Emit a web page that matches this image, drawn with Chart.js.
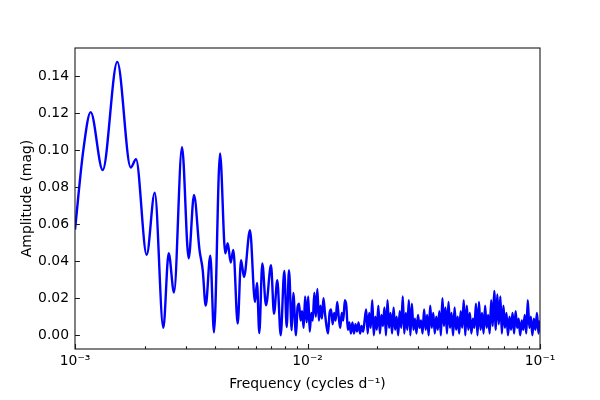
<!DOCTYPE html>
<html>
<head>
<meta charset="utf-8">
<script src="https://cdn.jsdelivr.net/npm/chart.js@4/dist/chart.umd.min.js"></script>
<style>
  html, body { margin: 0; padding: 0; background: #ffffff; }
  #chartCanvas { display: block; }
</style>
</head>
<body>
<canvas id="chartCanvas" width="600" height="400"></canvas>
<script>
// low-frequency part: frequency (cycles/d) and amplitude (mag), read peak by peak
var lowFreq = [
  0.001000, 0.001086, 0.001168, 0.001316, 0.001520, 0.001736, 0.001830, 0.002034,
  0.002203, 0.002398, 0.002529, 0.002666, 0.002886, 0.003083, 0.003250, 0.003432,
  0.003542, 0.003649, 0.003819, 0.003961, 0.004205, 0.004431, 0.004538, 0.004675,
  0.004796, 0.005010, 0.005177, 0.005333, 0.005658, 0.005946, 0.006065, 0.006204,
  0.006391, 0.006630, 0.006966, 0.007177, 0.007415, 0.007669, 0.007947, 0.008139,
  0.008326, 0.008552, 0.008688
];
var lowAmp = [
  0.0570, 0.1000, 0.1205, 0.0892, 0.1476, 0.0906, 0.0950, 0.0435,
  0.0770, 0.0040, 0.0443, 0.0231, 0.1015, 0.0416, 0.0757, 0.0460,
  0.0353, 0.0160, 0.0430, 0.0016, 0.0982, 0.0443, 0.0497, 0.0393,
  0.0461, 0.0063, 0.0405, 0.0315, 0.0568, 0.0180, 0.0283, 0.0012,
  0.0388, 0.0162, 0.0378, 0.0117, 0.0297, 0.0000, 0.0348, 0.0045,
  0.0351, 0.0027, 0.0229
];

// high-frequency noise band, evenly spaced in log frequency from highStart to highEnd
var highStart = 0.008924;
var highEnd = 0.1;
var highAmp = [
  0.000, 0.015, 0.017, 0.008, 0.013, 0.004, 0.021, 0.007, 0.021, 0.002,
  0.012, 0.008, 0.023, 0.010, 0.025, 0.008, 0.016, 0.009, 0.020, 0.012,
  0.005, 0.001, 0.012, 0.014, 0.006, 0.012, 0.008, 0.018, 0.010, 0.004,
  0.012, 0.008, 0.019, 0.016, 0.003, 0.007, 0.001, 0.007, 0.001, 0.006,
  0.002, 0.007, 0.001, 0.005, 0.002, 0.008, 0.014, 0.001, 0.012, 0.004,
  0.019, 0.000, 0.010, 0.003, 0.016, 0.001, 0.011, 0.005, 0.015, 0.000,
  0.019, 0.004, 0.012, 0.001, 0.015, 0.003, 0.010, 0.000, 0.013, 0.004,
  0.021, 0.001, 0.012, 0.003, 0.019, 0.000, 0.017, 0.003, 0.009, 0.001,
  0.011, 0.004, 0.008, 0.001, 0.014, 0.003, 0.011, 0.000, 0.016, 0.004,
  0.012, 0.001, 0.010, 0.003, 0.013, 0.000, 0.020, 0.005, 0.015, 0.001,
  0.018, 0.004, 0.012, 0.000, 0.015, 0.003, 0.010, 0.001, 0.013, 0.004,
  0.019, 0.000, 0.016, 0.003, 0.012, 0.001, 0.009, 0.004, 0.017, 0.000,
  0.018, 0.003, 0.012, 0.001, 0.016, 0.004, 0.011, 0.001, 0.019, 0.005,
  0.024, 0.003, 0.022, 0.006, 0.021, 0.001, 0.016, 0.004, 0.012, 0.000,
  0.010, 0.003, 0.012, 0.001, 0.013, 0.004, 0.009, 0.000, 0.008, 0.003,
  0.011, 0.001, 0.019, 0.004, 0.010, 0.000, 0.009, 0.003, 0.012, 0.001,
  0.008
];

var xTicks = [0.001, 0.01, 0.1];
var xTickLabels = ["10\u207B\u00B3", "10\u207B\u00B2", "10\u207B\u00B9"];
var xMinorTicks = [0.002, 0.003, 0.004, 0.005, 0.006, 0.007, 0.008, 0.009,
                   0.02, 0.03, 0.04, 0.05, 0.06, 0.07, 0.08, 0.09];
var yTicks = [0.00, 0.02, 0.04, 0.06, 0.08, 0.10, 0.12, 0.14];

var points = [];
for (var i = 0; i < lowFreq.length; i++) {
  points.push({ x: lowFreq[i], y: lowAmp[i] });
}
var lgA = Math.log10(highStart);
var lgB = Math.log10(highEnd);
for (var j = 0; j < highAmp.length; j++) {
  var lg = lgA + (lgB - lgA) * j / (highAmp.length - 1);
  points.push({ x: Math.pow(10, lg), y: highAmp[j] });
}

var FONT = "'DejaVu Sans', sans-serif";

// frame and inward ticks, matplotlib style
var framePlugin = {
  id: "frame",
  afterDraw: function (chart) {
    var ctx = chart.ctx;
    var a = chart.chartArea;
    var xs = chart.scales.x;
    var ys = chart.scales.y;
    ctx.save();
    ctx.strokeStyle = "#1a1a1a";
    ctx.lineWidth = 1.1;
    ctx.strokeRect(a.left, a.top, a.right - a.left, a.bottom - a.top);

    ctx.beginPath();
    xTicks.forEach(function (v) {
      var px = Math.round(xs.getPixelForValue(v)) + 0.5;
      ctx.moveTo(px, a.bottom);
      ctx.lineTo(px, a.bottom - 4.9);
    });
    xMinorTicks.forEach(function (v) {
      var px = Math.round(xs.getPixelForValue(v)) + 0.5;
      ctx.moveTo(px, a.bottom);
      ctx.lineTo(px, a.bottom - 2.8);
    });
    yTicks.forEach(function (v) {
      var py = Math.round(ys.getPixelForValue(v)) + 0.5;
      ctx.moveTo(a.left, py);
      ctx.lineTo(a.left + 4.9, py);
    });
    ctx.stroke();
    ctx.restore();
  }
};

var ctx = document.getElementById("chartCanvas").getContext("2d");

var amplitudeChart = new Chart(ctx, {
  type: "line",
  data: {
    datasets: [
      {
        data: points,
        borderColor: "#0000ff",
        borderWidth: 2.4,
        pointRadius: 0,
        fill: false,
        cubicInterpolationMode: "monotone"
      }
    ]
  },
  options: {
    responsive: false,
    animation: false,
    devicePixelRatio: 1,
    layout: { padding: { top: 48, right: 60, left: 0, bottom: 0 } },
    plugins: {
      legend: { display: false },
      title: { display: false },
      tooltip: { enabled: false }
    },
    scales: {
      x: {
        type: "logarithmic",
        min: 0.001,
        max: 0.1,
        grid: { display: false, drawTicks: false },
        border: { display: false },
        afterBuildTicks: function (scale) {
          scale.ticks = xTicks.map(function (v) { return { value: v }; });
        },
        afterFit: function (scale) { scale.height = 51; },
        ticks: {
          autoSkip: false,
          maxRotation: 0,
          padding: 4,
          color: "#000000",
          font: { family: FONT, size: 13.9 },
          callback: function (value, index) { return xTickLabels[index]; }
        },
        title: {
          display: true,
          text: "Frequency (cycles d\u207B\u00B9)",
          color: "#000000",
          font: { family: FONT, size: 13.9 },
          padding: { top: 0, bottom: 7.5 }
        }
      },
      y: {
        type: "linear",
        min: -0.0074,
        max: 0.1551,
        grid: { display: false, drawTicks: false },
        border: { display: false },
        afterBuildTicks: function (scale) {
          scale.ticks = yTicks.map(function (v) { return { value: v }; });
        },
        afterFit: function (scale) { scale.width = 75; },
        ticks: {
          padding: 6,
          color: "#000000",
          font: { family: FONT, size: 13.9 },
          callback: function (value) { return Number(value).toFixed(2); }
        },
        title: {
          display: true,
          text: "Amplitude (mag)",
          color: "#000000",
          font: { family: FONT, size: 13.9 },
          padding: { top: 19, bottom: 0 }
        }
      }
    }
  },
  plugins: [framePlugin]
});
</script>
</body>
</html>
